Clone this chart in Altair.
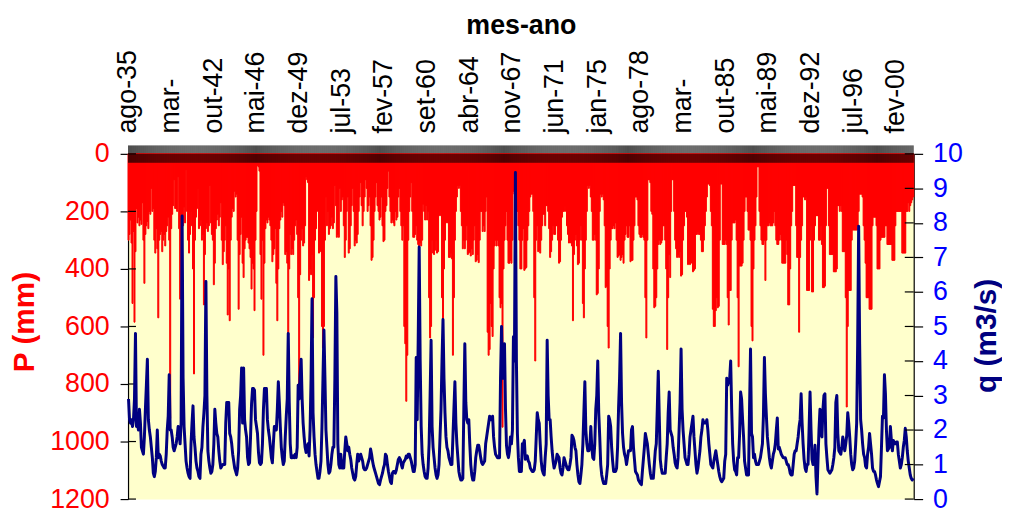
import json
import altair as alt
import pandas as pd

# Monthly precipitation P (mm); one row = one year, Aug..Jul, starting ago-1935
P_1935_1946 = [
    [300, 280, 230, 310, 520, 270, 585, 340, 190, 240, 220, 250],
    [230, 245, 170, 300, 450, 280, 250, 235, 260, 200, 210, 120],
    [200, 190, 300, 345, 260, 330, 570, 300, 280, 270, 340, 300],
    [280, 320, 270, 250, 220, 300, 920, 260, 210, 180, 90, 190],
    [190, 200, 80, 260, 505, 300, 230, 250, 185, 240, 55, 200],
    [300, 345, 280, 200, 250, 400, 765, 300, 220, 190, 120, 260],
    [250, 230, 300, 280, 525, 350, 260, 240, 270, 250, 110, 240],
    [280, 300, 455, 380, 260, 230, 210, 250, 220, 170, 300, 385],
    [340, 300, 250, 380, 560, 400, 580, 300, 220, 190, 200, 130],
    [150, 140, 300, 540, 350, 280, 220, 380, 430, 330, 300, 290],
    [290, 310, 330, 360, 470, 380, 400, 545, 300, 200, 40, 45],
]
P_1946_1957 = [
    [60, 350, 505, 300, 700, 380, 260, 230, 240, 220, 230, 250],
    [300, 375, 350, 330, 260, 450, 580, 400, 260, 230, 200, 220],
    [170, 180, 350, 340, 380, 630, 400, 280, 350, 330, 350, 300],
    [250, 230, 280, 500, 800, 420, 300, 260, 320, 310, 250, 80],
    [90, 100, 440, 400, 420, 350, 640, 500, 300, 260, 200, 70],
    [345, 330, 340, 600, 675, 600, 300, 150, 250, 200, 280, 260],
    [250, 220, 260, 240, 110, 180, 290, 280, 290, 120, 200, 160],
    [150, 250, 360, 300, 200, 150, 345, 330, 250, 180, 120, 200],
    [320, 300, 310, 280, 200, 150, 100, 180, 250, 200, 150, 90],
    [120, 200, 180, 150, 250, 370, 360, 300, 200, 150, 100, 180],
    [200, 230, 220, 150, 250, 305, 300, 200, 180, 120, 60, 150],
]
P_1957_1968 = [
    [200, 240, 230, 240, 250, 200, 230, 220, 150, 120, 200, 250],
    [300, 250, 600, 660, 860, 700, 300, 200, 150, 100, 200, 290],
    [290, 280, 250, 300, 315, 320, 310, 320, 300, 175, 200, 230],
    [180, 230, 200, 500, 640, 600, 300, 345, 350, 335, 300, 345],
    [340, 215, 200, 215, 500, 580, 400, 300, 240, 230, 240, 360],
    [360, 345, 365, 700, 500, 300, 200, 150, 110, 120, 110, 200],
    [250, 330, 300, 330, 300, 250, 350, 345, 340, 355, 330, 350],
    [300, 250, 375, 370, 350, 378, 300, 200, 200, 270, 250, 270],
    [200, 150, 620, 700, 680, 520, 600, 635, 400, 320, 300, 320],
    [300, 320, 500, 535, 520, 950, 400, 300, 250, 200, 300, 380],
    [380, 370, 380, 300, 130, 140, 150, 130, 200, 250, 300, 400],
]
P_1968_1979 = [
    [400, 300, 260, 405, 400, 395, 300, 250, 200, 150, 140, 140],
    [200, 500, 720, 300, 250, 340, 335, 345, 300, 250, 210, 210],
    [250, 180, 180, 200, 260, 360, 340, 300, 250, 280, 280, 250],
    [250, 300, 380, 375, 300, 220, 200, 200, 180, 200, 250, 280],
    [310, 300, 310, 320, 580, 350, 300, 280, 320, 385, 380, 300],
    [250, 300, 520, 570, 400, 300, 200, 110, 120, 110, 150, 200],
    [300, 300, 280, 300, 490, 485, 400, 200, 140, 150, 140, 160],
    [250, 465, 460, 600, 675, 400, 300, 260, 260, 250, 260, 240],
    [300, 360, 355, 350, 370, 360, 350, 380, 300, 280, 250, 290],
    [290, 250, 375, 370, 370, 300, 250, 150, 150, 160, 250, 280],
    [290, 290, 280, 290, 300, 500, 640, 300, 90, 90, 100, 200],
]
P_1979_1990 = [
    [210, 400, 535, 530, 500, 400, 315, 300, 315, 310, 300, 250],
    [250, 300, 400, 680, 500, 350, 430, 200, 90, 90, 200, 300],
    [330, 360, 350, 360, 340, 425, 420, 300, 250, 200, 200, 220],
    [385, 380, 385, 350, 380, 410, 405, 400, 280, 280, 270, 280],
    [280, 300, 340, 340, 300, 250, 200, 150, 105, 105, 110, 200],
    [250, 540, 600, 600, 545, 500, 535, 530, 300, 105, 105, 315],
    [315, 315, 300, 315, 500, 595, 475, 475, 300, 240, 240, 240],
    [230, 300, 500, 740, 390, 390, 390, 380, 300, 200, 150, 150],
    [200, 265, 265, 300, 600, 650, 400, 300, 250, 150, 45, 45],
    [200, 250, 300, 315, 315, 300, 440, 300, 250, 250, 240, 250],
    [250, 250, 240, 200, 250, 300, 315, 315, 300, 280, 300, 380],
]
P_1990_2001 = [
    [380, 380, 380, 300, 350, 525, 525, 400, 250, 200, 110, 110],
    [110, 250, 360, 360, 620, 360, 300, 250, 150, 150, 160, 150],
    [475, 475, 475, 300, 250, 480, 480, 300, 250, 215, 215, 215],
    [300, 300, 250, 315, 465, 465, 460, 250, 120, 120, 250, 350],
    [350, 350, 350, 410, 410, 410, 400, 180, 180, 200, 180, 200],
    [340, 340, 340, 500, 880, 600, 475, 475, 475, 300, 265, 265],
    [265, 265, 265, 250, 200, 140, 140, 140, 150, 250, 300, 380],
    [500, 500, 500, 540, 540, 540, 250, 220, 220, 220, 250, 400],
    [400, 400, 300, 290, 290, 290, 290, 250, 250, 315, 315, 315],
    [315, 315, 370, 370, 370, 250, 200, 200, 200, 200, 200, 200],
    [345, 345, 345, 345, 200, 200, 170, 200, 180, 170, 160, 150],
]

# Monthly discharge q (m3/s); same layout
Q_1935_1946 = [
    [2.9, 2.3, 2.2, 2.3, 2.1, 2.3, 2.9, 4.8, 2.1, 2.2, 2.0, 2.6],
    [2.2, 1.5, 1.4, 1.3, 1.8, 2.6, 3.3, 4.05, 2.3, 2.0, 1.8, 1.5],
    [1.2, 0.75, 0.65, 0.8, 1.2, 2.0, 1.2, 1.3, 1.25, 1.1, 1.0, 0.95],
    [0.9, 0.9, 1.3, 2.0, 2.4, 3.6, 2.0, 2.0, 1.8, 1.5, 1.4, 1.5],
    [1.6, 1.8, 2.1, 1.9, 1.6, 2.2, 8.2, 3.5, 2.1, 1.6, 1.1, 0.9],
    [0.75, 0.65, 0.6, 1.6, 2.2, 2.7, 1.8, 1.5, 1.1, 0.9, 0.8, 0.65],
    [0.6, 1.3, 1.5, 2.1, 2.5, 3.0, 6.3, 3.0, 1.4, 1.1, 0.9, 0.75],
    [0.8, 1.0, 1.6, 2.6, 2.2, 1.9, 1.8, 1.4, 1.1, 0.9, 0.95, 1.0],
    [1.0, 1.0, 2.2, 2.8, 2.8, 2.8, 1.9, 1.8, 1.6, 1.3, 1.1, 0.9],
    [0.8, 0.7, 0.9, 1.4, 2.6, 3.0, 3.8, 2.2, 3.8, 2.3, 2.0, 1.8],
    [1.2, 1.0, 1.05, 1.8, 2.75, 3.2, 3.2, 3.15, 2.3, 2.1, 1.9, 1.35],
]
Q_1946_1957 = [
    [1.05, 1.0, 1.05, 1.6, 2.6, 3.2, 3.2, 3.2, 2.3, 2.0, 1.8, 1.5],
    [1.2, 1.05, 1.6, 2.1, 2.1, 2.0, 2.6, 3.4, 2.8, 2.1, 1.5, 1.2],
    [1.0, 1.1, 1.8, 2.4, 2.9, 4.8, 2.8, 1.6, 1.2, 1.2, 1.25, 1.2],
    [1.3, 1.2, 1.5, 3.3, 2.9, 3.6, 4.05, 2.9, 2.2, 1.8, 1.5, 1.35],
    [1.5, 1.6, 1.25, 2.0, 3.5, 5.8, 2.5, 1.8, 1.3, 1.0, 0.8, 0.6],
    [0.6, 0.8, 1.1, 2.1, 3.5, 4.9, 3.5, 2.0, 1.5, 1.0, 0.75, 0.8],
    [1.0, 1.3, 1.5, 1.5, 3.5, 6.45, 5.4, 1.6, 1.0, 0.9, 1.3, 0.9],
    [1.1, 0.9, 1.4, 1.8, 1.6, 1.4, 1.5, 1.3, 1.15, 0.9, 0.75, 0.6],
    [0.55, 0.65, 1.0, 1.3, 1.1, 1.2, 1.3, 1.2, 1.1, 0.9, 0.85, 0.85],
    [0.9, 1.0, 1.1, 1.2, 1.45, 1.3, 1.1, 0.95, 0.85, 0.75, 0.65, 0.55],
    [0.45, 0.42, 0.55, 0.65, 0.75, 0.9, 1.0, 1.3, 1.25, 1.0, 0.8, 0.65],
]
Q_1957_1968 = [
    [0.5, 0.45, 0.75, 0.8, 0.8, 0.75, 0.85, 1.0, 1.15, 1.2, 1.15, 1.0],
    [0.9, 1.05, 1.1, 1.15, 1.25, 1.2, 1.3, 1.3, 1.2, 1.1, 0.95, 0.8],
    [0.8, 1.0, 4.1, 2.3, 4.6, 7.3, 4.0, 2.1, 1.3, 1.0, 0.8, 0.65],
    [0.6, 0.6, 0.9, 1.6, 3.0, 4.6, 2.1, 1.5, 1.2, 0.9, 0.7, 0.6],
    [0.7, 1.0, 1.8, 2.6, 4.0, 5.2, 3.5, 2.5, 1.8, 1.5, 1.4, 1.2],
    [1.1, 1.0, 1.0, 1.8, 2.6, 3.4, 2.2, 1.6, 1.2, 0.8, 0.65, 0.55],
    [0.55, 0.6, 2.6, 4.5, 2.8, 2.3, 2.2, 2.3, 1.6, 1.0, 0.7, 0.55],
    [0.55, 0.8, 1.2, 1.4, 1.56, 1.56, 1.4, 1.2, 1.05, 1.0, 1.05, 1.1],
    [1.6, 1.8, 2.0, 2.2, 2.4, 2.3, 2.3, 2.4, 1.8, 1.5, 1.3, 1.25],
    [1.2, 1.2, 1.2, 3.5, 5.0, 3.5, 4.0, 4.5, 2.6, 1.56, 1.3, 1.2],
    [1.4, 1.8, 1.6, 2.0, 4.7, 4.0, 9.46, 4.0, 1.9, 1.2, 0.8, 0.8],
]
Q_1968_1979 = [
    [0.8, 1.6, 1.6, 1.7, 1.15, 1.2, 1.25, 1.1, 1.05, 0.9, 0.85, 0.8],
    [0.8, 0.85, 1.1, 1.8, 2.5, 2.3, 2.2, 1.6, 1.1, 0.85, 0.75, 0.7],
    [1.2, 1.6, 4.6, 3.0, 2.3, 2.3, 1.8, 1.4, 1.1, 0.9, 1.0, 1.1],
    [1.3, 1.25, 1.2, 0.9, 0.75, 0.7, 0.9, 1.2, 1.1, 1.0, 0.9, 0.85],
    [0.85, 1.0, 1.2, 1.85, 1.8, 1.7, 1.5, 1.4, 1.0, 0.7, 0.5, 0.45],
    [0.7, 1.0, 1.6, 2.5, 3.4, 2.0, 1.6, 1.4, 1.4, 1.5, 2.1, 1.5],
    [1.2, 1.15, 1.6, 2.6, 3.0, 4.0, 2.5, 1.8, 1.0, 0.7, 0.55, 0.45],
    [0.45, 0.45, 0.7, 1.0, 2.4, 2.3, 2.1, 1.5, 1.1, 0.8, 0.8, 0.8],
    [0.9, 1.5, 2.65, 3.5, 4.8, 2.8, 1.9, 1.5, 1.3, 1.2, 1.0, 1.2],
    [1.4, 1.4, 1.4, 2.0, 2.1, 1.5, 1.15, 0.8, 0.75, 0.7, 0.55, 0.5],
    [0.45, 0.42, 0.8, 1.15, 1.5, 1.9, 1.75, 1.6, 1.3, 1.0, 0.75, 0.6],
]
Q_1979_1990 = [
    [0.6, 0.6, 1.0, 1.4, 1.6, 2.6, 3.7, 2.4, 1.15, 0.9, 0.75, 0.75],
    [0.75, 0.75, 1.2, 1.6, 2.5, 3.1, 2.0, 1.9, 1.8, 1.5, 1.3, 1.05],
    [0.95, 0.9, 1.2, 2.0, 2.8, 4.35, 2.6, 2.0, 1.6, 1.2, 1.1, 1.0],
    [1.0, 1.3, 1.8, 2.0, 2.2, 2.4, 1.8, 1.4, 1.0, 0.75, 0.9, 1.15],
    [1.4, 1.8, 2.0, 2.3, 2.2, 2.2, 2.2, 2.3, 2.0, 1.6, 1.3, 1.0],
    [0.95, 0.9, 1.1, 1.25, 1.4, 1.2, 1.0, 0.8, 0.65, 0.55, 0.5, 0.55],
    [0.6, 1.1, 1.3, 3.5, 3.3, 3.4, 3.5, 4.0, 2.6, 1.6, 1.1, 0.85],
    [0.8, 0.7, 1.2, 1.2, 1.9, 3.1, 2.9, 2.3, 1.8, 1.1, 0.9, 0.7],
    [0.7, 0.7, 2.6, 4.35, 1.9, 1.8, 1.2, 1.3, 1.1, 1.0, 1.0, 1.0],
    [1.1, 1.2, 1.4, 1.6, 2.4, 4.1, 3.05, 2.4, 1.8, 1.5, 1.2, 1.0],
    [0.9, 1.1, 1.3, 1.4, 1.6, 2.0, 2.35, 1.45, 1.5, 1.4, 1.3, 1.25],
]
Q_1990_2001 = [
    [1.2, 1.2, 1.2, 1.1, 1.0, 1.0, 0.9, 0.75, 0.7, 0.7, 1.0, 1.3],
    [1.4, 1.4, 1.6, 1.8, 2.1, 2.3, 3.05, 2.2, 1.6, 1.15, 0.9, 0.8],
    [1.0, 1.0, 2.0, 3.1, 2.0, 1.15, 1.0, 1.1, 1.56, 0.65, 0.15, 1.1],
    [2.0, 2.6, 1.9, 1.8, 2.6, 3.0, 3.05, 1.6, 1.2, 0.85, 0.8, 0.75],
    [0.8, 0.85, 1.0, 1.2, 1.5, 2.8, 3.0, 1.9, 1.4, 1.35, 1.3, 1.5],
    [1.8, 1.6, 1.4, 1.6, 1.85, 2.5, 2.2, 1.8, 1.3, 1.0, 0.85, 0.9],
    [1.1, 1.6, 2.2, 4.5, 7.9, 4.5, 2.3, 2.0, 1.6, 1.3, 1.2, 0.95],
    [0.9, 1.3, 1.5, 1.9, 1.6, 1.3, 0.9, 0.8, 0.8, 0.7, 0.55, 0.45],
    [0.36, 0.5, 0.65, 1.5, 2.4, 2.35, 3.6, 3.05, 2.0, 1.4, 1.45, 1.5],
    [2.1, 1.7, 1.4, 1.7, 1.6, 1.6, 1.65, 1.65, 1.3, 1.1, 0.9, 1.0],
    [1.2, 1.5, 1.7, 2.05, 1.8, 1.4, 1.1, 0.9, 0.7, 0.6, 0.55, 0.6],
]

TICK_LABELS = ["ago-35", "mar-", "out-42", "mai-46", "dez-49", "jul-53", "fev-57",
               "set-60", "abr-64", "nov-67", "jun-71", "jan-75", "ago-78", "mar-",
               "out-85", "mai-89", "dez-92", "jul-96", "fev-00"]
LABEL_STEP = 43
P_TICKS = [0, 200, 400, 600, 800, 1000, 1200]
Q_TICKS = [0, 1, 2, 3, 4, 5, 6, 7, 8, 9, 10]

P_BLOCKS = [P_1935_1946, P_1946_1957, P_1957_1968, P_1968_1979, P_1979_1990, P_1990_2001]
Q_BLOCKS = [Q_1935_1946, Q_1946_1957, Q_1957_1968, Q_1968_1979, Q_1979_1990, Q_1990_2001]
P = [v for b in P_BLOCKS for row in b for v in row]
Q = [v for b in Q_BLOCKS for row in b for v in row]
df = pd.DataFrame({"m": list(range(len(P))), "P": P, "q": Q})

W, H = 792, 348
FONT = "Liberation Sans"
FS = 27
TFS = 30

label_expr = (f"datum.value % {LABEL_STEP} === 0 ? "
              f"{json.dumps(TICK_LABELS)}[datum.value / {LABEL_STEP}] : ''")

x_enc = alt.X(
    "m:O",
    scale=alt.Scale(paddingInner=0, paddingOuter=0),
    axis=alt.Axis(
        orient="top", labelExpr=label_expr, labelAngle=270, labelAlign="left",
        labelBaseline="middle", labelFont=FONT, labelFontSize=FS, labelColor="black",
        labelPadding=12, labelOverlap=False, tickSize=9, tickColor="black",
        tickWidth=0.7, domain=False, grid=False,
        title="mes-ano", titleFont=FONT, titleFontSize=FS, titleFontWeight="bold",
        titleColor="black", titleY=-121, titleBaseline="alphabetic",
    ),
)

y_p = alt.Y(
    "P:Q",
    scale=alt.Scale(domain=[0, 1200], reverse=True, nice=False),
    axis=alt.Axis(
        orient="left", values=P_TICKS, format="d", grid=False, labelFont=FONT,
        labelFontSize=FS, labelColor="#FF0000", labelPadding=11, labelOverlap=False,
        tickSize=8, tickColor="black", tickWidth=1.2, domainColor="black",
        domainWidth=1.2,
        title="P (mm)", titleFont=FONT, titleFontSize=TFS, titleFontWeight="bold",
        titleColor="#FF0000", titleAngle=270, titleX=-104, titleY=169,
        titleAlign="center", titleBaseline="middle",
    ),
)

y_q = alt.Y(
    "q:Q",
    scale=alt.Scale(domain=[0, 10], nice=False),
    axis=alt.Axis(
        orient="right", values=Q_TICKS, format="d", grid=False, labelFont=FONT,
        labelFontSize=FS, labelColor="#0000FF", labelPadding=10, labelOverlap=False,
        tickSize=9, tickColor="black", tickWidth=1.2, domainColor="black",
        domainWidth=1.2,
        title="q (m3/s)", titleFont=FONT, titleFontSize=TFS, titleFontWeight="bold",
        titleColor="#000080", titleAngle=270, titleX=73, titleY=183,
        titleAlign="center", titleBaseline="middle",
    ),
)

bars = alt.Chart(df).mark_bar(color="#FF0000", stroke="#FF0000", strokeWidth=1).encode(
    x=x_enc, y=y_p)
top_ticks = alt.Chart(df).mark_rule(color="black", strokeWidth=0.7).encode(
    x=x_enc, y=alt.value(0), y2=alt.value(9))
p_in = alt.Chart(pd.DataFrame({"P": P_TICKS})).mark_rule(color="black", strokeWidth=1.2).encode(
    y=y_p, x=alt.value(0), x2=alt.value(8))

line = alt.Chart(df).mark_line(color="#000080", strokeWidth=3, strokeJoin="round").encode(
    x=x_enc, y=y_q)
q_in = alt.Chart(pd.DataFrame({"q": Q_TICKS})).mark_rule(color="black", strokeWidth=1.2).encode(
    y=y_q, x=alt.value(W - 9), x2=alt.value(W))

left = alt.layer(bars, top_ticks, p_in)
right = alt.layer(line, q_in)

chart = (
    alt.layer(left, right)
    .resolve_scale(y="independent")
    .properties(
        width=W, height=H,
        autosize=alt.AutoSizeParams(type="none"),
        padding={"left": 121, "top": 145, "right": 89, "bottom": 10},
        background="white",
    )
    .configure_view(fill="#FFFFCC", stroke="transparent")
)

chart.save("out.html", embed_options={"renderer": "svg", "actions": False})
